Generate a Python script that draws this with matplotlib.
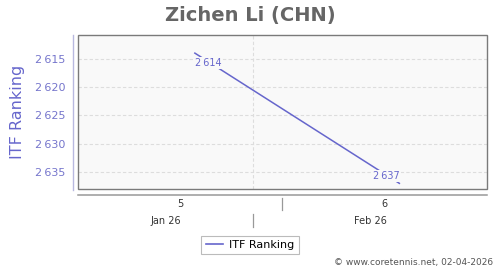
import numpy as np
import matplotlib
matplotlib.use("Agg")
import matplotlib.pyplot as plt
import matplotlib.dates as mdates
from matplotlib.patches import Rectangle
from matplotlib.lines import Line2D
from matplotlib.transforms import blended_transform_factory
import datetime as dt

# data
dates = [dt.date(2026, 1, 30), dt.date(2026, 2, 6)]
ranks = [2614, 2637]
rank_labels = ["2\u2009614", "2\u2009637"]
yticks = [2615, 2620, 2625, 2630, 2635]
week_labels = ["5", "6"]
week_centers = [dt.datetime(2026, 1, 29, 12), dt.datetime(2026, 2, 5, 12)]
week_bounds = [dt.date(2026, 2, 2)]
month_labels = ["Jan 26", "Feb 26"]
month_bounds = [dt.date(2026, 2, 1)]
xmin, xmax = dt.date(2026, 1, 26), dt.date(2026, 2, 9)

line_c = "#6666cc"
tick_c = "#7575cc"
grid_c = "#dddddd"

fig = plt.figure(figsize=(5, 2.7), dpi=100)
fig.patch.set_facecolor("white")
ax = fig.add_axes([78/500, 1-189/270, (487-78)/500, (189-35)/270])
ax.set_facecolor("#f9f9f9")

x = mdates.date2num(dates)
ax.plot(x, ranks, color=line_c, lw=1.1, zorder=3)
# labels sit a little along the line from each point
offs = [(13, -10), (-13, 7)]
for xi, yi, lab, o in zip(x, ranks, rank_labels, offs):
    ax.annotate(lab, (xi, yi), xytext=o, textcoords="offset pixels",
                ha="center", va="center", fontsize=7, color=line_c, zorder=4,
                bbox=dict(boxstyle="square,pad=0.1", fc="#f9f9f9", ec="none"))

ax.set_xlim(mdates.date2num(xmin), mdates.date2num(xmax))
ax.set_ylim(2638, 2610.8)
ax.set_yticks(yticks)
ax.set_yticklabels(["{:,}".format(v).replace(",", "\u2009") for v in yticks])
ax.tick_params(axis="y", length=0, pad=9, labelsize=8, labelcolor=tick_c)
ax.set_xticks([])
for v in yticks:
    ax.axhline(v, color=grid_c, lw=0.8, ls=(0, (3, 2)), zorder=1)
for b in month_bounds:
    ax.axvline(mdates.date2num(b), color=grid_c, lw=0.8, ls=(0, (3, 2)), zorder=1)

for s in ax.spines.values():
    s.set_visible(False)
ax.add_patch(Rectangle((0, 0), 1, 1, transform=ax.transAxes, fill=False,
                       ec="#7a7a7a", lw=1.0, zorder=5, clip_on=False))

# outer axis lines
fig.add_artist(Line2D([73/500, 73/500], [1-35/270, 1-190/270], color="#b8b8e0", lw=1))
fig.add_artist(Line2D([78/500, 487/500], [1-195/270, 1-195/270], color="#999999", lw=1.1))

ax.set_ylabel("ITF Ranking", fontsize=11.5, color=line_c, labelpad=7)

# two-row date axis
tr = blended_transform_factory(ax.transData, fig.transFigure)
for c, lab in zip(week_centers, week_labels):
    ax.text(mdates.date2num(c), 1-204/270, lab, transform=tr, ha="center", va="center",
            fontsize=7, color="#333333")
for b in week_bounds:
    ax.add_artist(Line2D([mdates.date2num(b)]*2, [1-198/270, 1-210/270], transform=tr,
                         color="#999999", lw=0.9, clip_on=False))
lo, hi = mdates.date2num(xmin), mdates.date2num(xmax)
edges = [lo] + [mdates.date2num(b) for b in month_bounds] + [hi]
for i, lab in enumerate(month_labels):
    ax.text((edges[i] + edges[i+1]) / 2, 1-221/270, lab, transform=tr, ha="center",
            va="center", fontsize=7, color="#333333")
for b in month_bounds:
    ax.add_artist(Line2D([mdates.date2num(b)]*2, [1-214/270, 1-227/270], transform=tr,
                         color="#999999", lw=0.9, clip_on=False))

fig.text(0.5, 1-15/270, "Zichen Li (CHN)", ha="center", va="center", fontsize=14,
         fontweight="bold", color="#666666")

leg = fig.legend(handles=[Line2D([], [], color=line_c, lw=1.2)], labels=["ITF Ranking"],
                 loc="center", bbox_to_anchor=(250/500, 1-245/270), fontsize=8,
                 frameon=True, fancybox=False, handlelength=1.6, handletextpad=0.5,
                 borderpad=0.4)
leg.get_frame().set_edgecolor("#aaaaaa")
leg.get_frame().set_linewidth(0.8)

fig.text(493/500, 1-263/270, "\u00a9 www.coretennis.net, 02-04-2026", ha="right",
         va="center", fontsize=6.5, color="#555555")

fig.savefig("out.png", dpi=100)
